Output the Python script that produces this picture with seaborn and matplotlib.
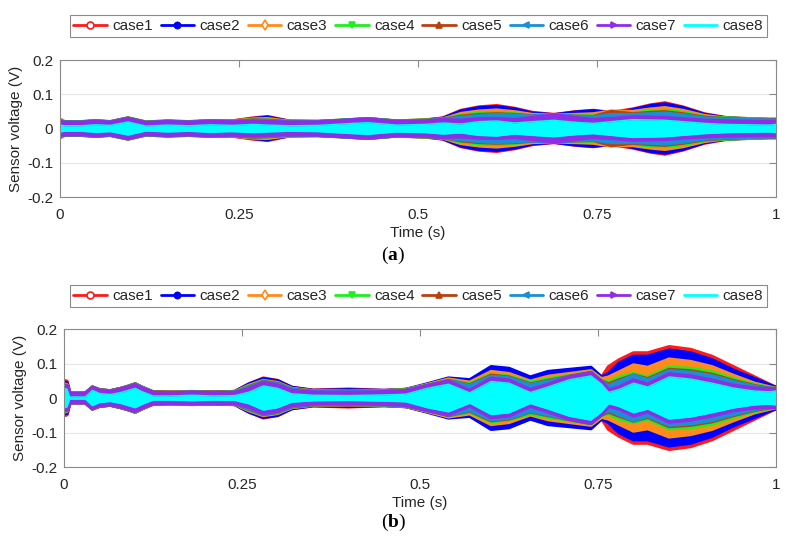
import numpy as np
import pandas as pd
import seaborn as sns
import matplotlib.pyplot as plt
from matplotlib.lines import Line2D

# ---- data: envelope amplitude (V) of each case ----
case_names = ["case1", "case2", "case3", "case4", "case5", "case6", "case7", "case8"]
case_colors = ["#ff1a1a", "#0000ff", "#ff8c1a", "#1fee1f", "#b8410e", "#1a8fd6", "#8f2de6", "#00ffff"]
case_markers = ["o", "o", "d", "v", "^", "<", ">", None]
case_filled = [False, True, False, True, True, True, True, True]

xtick_vals = [0, 0.25, 0.5, 0.75, 1]
xtick_labels = ["0", "0.25", "0.5", "0.75", "1"]
ytick_vals = [-0.2, -0.1, 0, 0.1, 0.2]
ytick_labels = ["-0.2", "-0.1", "0", "0.1", "0.2"]

# panel (a)
t_a = [0.000, 0.006, 0.030, 0.050, 0.070, 0.095, 0.120, 0.150, 0.180, 0.210,
       0.240, 0.270, 0.290, 0.320, 0.360, 0.400, 0.430, 0.470, 0.510, 0.535,
       0.560, 0.585, 0.610, 0.635, 0.660, 0.690, 0.720, 0.745, 0.770, 0.800,
       0.825, 0.845, 0.870, 0.900, 0.930, 0.960, 0.990, 1.000]
a_case1 = [0.026, 0.019, 0.019, 0.022, 0.019, 0.030, 0.018, 0.021, 0.019, 0.022,
           0.021, 0.030, 0.034, 0.021, 0.020, 0.024, 0.028, 0.021, 0.024, 0.030,
           0.052, 0.062, 0.066, 0.058, 0.046, 0.040, 0.048, 0.052, 0.046, 0.056,
           0.068, 0.074, 0.062, 0.042, 0.031, 0.028, 0.026, 0.026]
a_case2 = [0.024, 0.018, 0.018, 0.021, 0.018, 0.029, 0.017, 0.020, 0.018, 0.021,
           0.020, 0.028, 0.032, 0.020, 0.019, 0.023, 0.027, 0.021, 0.023, 0.029,
           0.050, 0.060, 0.063, 0.056, 0.044, 0.039, 0.047, 0.051, 0.044, 0.054,
           0.066, 0.071, 0.060, 0.040, 0.030, 0.027, 0.025, 0.025]
a_case3 = [0.026, 0.019, 0.018, 0.021, 0.018, 0.029, 0.017, 0.020, 0.019, 0.022,
           0.021, 0.027, 0.028, 0.020, 0.019, 0.023, 0.027, 0.020, 0.023, 0.027,
           0.043, 0.050, 0.053, 0.048, 0.040, 0.039, 0.040, 0.042, 0.050, 0.049,
           0.056, 0.060, 0.052, 0.037, 0.029, 0.027, 0.025, 0.026]
a_case4 = [0.025, 0.019, 0.019, 0.022, 0.019, 0.030, 0.018, 0.021, 0.018, 0.021,
           0.020, 0.025, 0.024, 0.020, 0.020, 0.024, 0.028, 0.021, 0.024, 0.027,
           0.038, 0.044, 0.046, 0.042, 0.037, 0.039, 0.036, 0.036, 0.043, 0.044,
           0.050, 0.052, 0.046, 0.034, 0.030, 0.028, 0.026, 0.026]
a_case5 = [0.022, 0.018, 0.018, 0.021, 0.018, 0.029, 0.017, 0.020, 0.018, 0.021,
           0.020, 0.024, 0.023, 0.019, 0.019, 0.023, 0.027, 0.020, 0.023, 0.026,
           0.035, 0.040, 0.042, 0.040, 0.036, 0.039, 0.035, 0.034, 0.049, 0.042,
           0.046, 0.048, 0.042, 0.032, 0.028, 0.026, 0.025, 0.025]
a_case6 = [0.021, 0.018, 0.018, 0.021, 0.018, 0.029, 0.017, 0.020, 0.018, 0.021,
           0.019, 0.023, 0.022, 0.018, 0.019, 0.024, 0.028, 0.020, 0.022, 0.026,
           0.032, 0.037, 0.040, 0.038, 0.035, 0.040, 0.034, 0.033, 0.040, 0.040,
           0.042, 0.044, 0.039, 0.030, 0.027, 0.025, 0.024, 0.024]
a_case7 = [0.018, 0.016, 0.016, 0.019, 0.016, 0.027, 0.015, 0.018, 0.016, 0.019,
           0.017, 0.020, 0.018, 0.016, 0.017, 0.022, 0.026, 0.018, 0.020, 0.024,
           0.022, 0.026, 0.027, 0.024, 0.030, 0.038, 0.030, 0.024, 0.027, 0.032,
           0.031, 0.030, 0.026, 0.022, 0.020, 0.019, 0.018, 0.020]
a_case8 = [0.010, 0.008, 0.008, 0.011, 0.009, 0.019, 0.007, 0.010, 0.008, 0.011,
           0.009, 0.012, 0.010, 0.008, 0.009, 0.014, 0.017, 0.010, 0.012, 0.016,
           0.013, 0.020, 0.022, 0.016, 0.020, 0.024, 0.018, 0.015, 0.020, 0.026,
           0.025, 0.024, 0.020, 0.015, 0.012, 0.011, 0.010, 0.012]

# panel (b)
t_b = [0.000, 0.004, 0.008, 0.030, 0.040, 0.050, 0.065, 0.080, 0.090, 0.100,
       0.110, 0.125, 0.150, 0.180, 0.210, 0.240, 0.260, 0.280, 0.300, 0.320,
       0.350, 0.400, 0.450, 0.480, 0.510, 0.540, 0.570, 0.600, 0.625, 0.655,
       0.680, 0.710, 0.740, 0.755, 0.765, 0.780, 0.800, 0.820, 0.850, 0.880,
       0.910, 0.940, 0.970, 0.990, 1.000]
b_case1 = [0.050, 0.048, 0.013, 0.013, 0.031, 0.023, 0.020, 0.027, 0.033, 0.040,
           0.030, 0.017, 0.016, 0.018, 0.016, 0.018, 0.040, 0.057, 0.050, 0.030,
           0.022, 0.025, 0.021, 0.024, 0.036, 0.054, 0.048, 0.085, 0.080, 0.056,
           0.072, 0.078, 0.084, 0.058, 0.090, 0.110, 0.130, 0.130, 0.148, 0.140,
           0.120, 0.090, 0.060, 0.040, 0.030]
b_case2 = [0.045, 0.043, 0.013, 0.013, 0.031, 0.023, 0.020, 0.027, 0.033, 0.040,
           0.030, 0.017, 0.016, 0.017, 0.016, 0.018, 0.040, 0.055, 0.049, 0.030,
           0.021, 0.023, 0.021, 0.024, 0.040, 0.057, 0.052, 0.090, 0.085, 0.060,
           0.076, 0.082, 0.088, 0.060, 0.070, 0.100, 0.120, 0.120, 0.138, 0.130,
           0.110, 0.080, 0.055, 0.038, 0.030]
b_case3 = [0.040, 0.038, 0.012, 0.012, 0.030, 0.022, 0.019, 0.026, 0.032, 0.039,
           0.029, 0.016, 0.016, 0.017, 0.015, 0.017, 0.036, 0.050, 0.044, 0.027,
           0.020, 0.019, 0.020, 0.023, 0.038, 0.054, 0.045, 0.076, 0.070, 0.048,
           0.062, 0.070, 0.078, 0.055, 0.060, 0.075, 0.095, 0.088, 0.112, 0.105,
           0.090, 0.065, 0.042, 0.032, 0.027]
b_case4 = [0.038, 0.036, 0.012, 0.012, 0.031, 0.022, 0.019, 0.026, 0.033, 0.040,
           0.029, 0.016, 0.015, 0.017, 0.015, 0.017, 0.034, 0.048, 0.042, 0.026,
           0.019, 0.018, 0.020, 0.023, 0.036, 0.050, 0.040, 0.068, 0.062, 0.045,
           0.055, 0.064, 0.074, 0.050, 0.045, 0.060, 0.070, 0.060, 0.088, 0.085,
           0.075, 0.055, 0.038, 0.030, 0.026]
b_case5 = [0.037, 0.035, 0.012, 0.012, 0.030, 0.022, 0.019, 0.026, 0.032, 0.039,
           0.028, 0.016, 0.015, 0.016, 0.015, 0.016, 0.032, 0.047, 0.041, 0.025,
           0.019, 0.018, 0.019, 0.022, 0.035, 0.050, 0.037, 0.065, 0.060, 0.040,
           0.050, 0.062, 0.073, 0.048, 0.040, 0.052, 0.066, 0.055, 0.082, 0.078,
           0.068, 0.050, 0.035, 0.028, 0.026]
b_case6 = [0.036, 0.034, 0.012, 0.012, 0.029, 0.021, 0.018, 0.025, 0.031, 0.038,
           0.028, 0.015, 0.014, 0.016, 0.014, 0.016, 0.030, 0.046, 0.040, 0.024,
           0.018, 0.017, 0.019, 0.021, 0.035, 0.049, 0.035, 0.062, 0.058, 0.038,
           0.048, 0.061, 0.072, 0.047, 0.035, 0.048, 0.065, 0.052, 0.078, 0.074,
           0.064, 0.047, 0.033, 0.027, 0.026]
b_case7 = [0.035, 0.033, 0.011, 0.011, 0.028, 0.020, 0.017, 0.024, 0.030, 0.036,
           0.026, 0.014, 0.013, 0.015, 0.013, 0.014, 0.025, 0.043, 0.036, 0.020,
           0.015, 0.014, 0.016, 0.019, 0.034, 0.047, 0.020, 0.055, 0.050, 0.022,
           0.038, 0.060, 0.071, 0.046, 0.022, 0.030, 0.050, 0.038, 0.068, 0.062,
           0.050, 0.035, 0.027, 0.025, 0.025]
b_case8 = [0.028, 0.026, 0.003, 0.003, 0.022, 0.013, 0.010, 0.016, 0.022, 0.028,
           0.018, 0.006, 0.006, 0.008, 0.006, 0.007, 0.017, 0.035, 0.028, 0.012,
           0.008, 0.007, 0.009, 0.011, 0.028, 0.040, 0.015, 0.048, 0.043, 0.016,
           0.032, 0.053, 0.064, 0.040, 0.016, 0.025, 0.043, 0.032, 0.061, 0.055,
           0.043, 0.029, 0.020, 0.018, 0.020]

panels = [
    ("a", t_a, [a_case1, a_case2, a_case3, a_case4, a_case5, a_case6, a_case7, a_case8]),
    ("b", t_b, [b_case1, b_case2, b_case3, b_case4, b_case5, b_case6, b_case7, b_case8]),
]

# ---- style ----
sns.set_theme(style="white")
plt.rcParams["font.family"] = ["Liberation Sans", "DejaVu Sans"]
plt.rcParams["font.size"] = 11
plt.rcParams["mathtext.fontset"] = "custom"
plt.rcParams["mathtext.rm"] = "Liberation Serif"
plt.rcParams["mathtext.bf"] = "Liberation Serif:bold"

fig = plt.figure(figsize=(7.91, 5.45), dpi=100)
# [left, bottom, width, height] in figure fraction
ax_boxes = [[0.0759, 0.6385, 0.9051, 0.2514], [0.0809, 0.1431, 0.9001, 0.2532]]
legend_y = [0.952, 0.457]
label_y = [0.532, 0.042]

handles = []
for name, col, mk, filled in zip(case_names, case_colors, case_markers, case_filled):
    handles.append(Line2D([0], [0], color=col, lw=2.0, marker=mk,
                          markersize=5 if not filled else 4.5,
                          markerfacecolor=col if filled else "white",
                          markeredgecolor=col, markeredgewidth=1.2, label=name))

for (tag, t, amps), box, ly, ty in zip(panels, ax_boxes, legend_y, label_y):
    ax = fig.add_axes(box)
    rows = []
    for name, amp in zip(case_names, amps):
        for tt, v in zip(t, amp):
            rows.append({"t": tt, "upper": v, "lower": -v, "case": name})
    df = pd.DataFrame(rows)

    # each case drawn in order (band + thick edge), later cases on top
    for i, (name, col) in enumerate(zip(case_names, case_colors)):
        d = df[df["case"] == name]
        z = 2 + i
        ax.fill_between(d["t"], d["lower"], d["upper"], color=col, lw=0, zorder=z)
        lw = 2.8
        if i == 6:
            lw = 3.4
        elif i == 7:
            lw = 1.0
        for edge in ["upper", "lower"]:
            sns.lineplot(data=d, x="t", y=edge, color=col, linewidth=lw,
                         sort=False, estimator=None, ax=ax, zorder=z,
                         solid_joinstyle="round", solid_capstyle="round")

    ax.set_xlim(0, 1)
    ax.set_ylim(-0.2, 0.2)
    ax.set_xticks(xtick_vals)
    ax.set_xticklabels(xtick_labels)
    ax.set_yticks(ytick_vals)
    ax.set_yticklabels(ytick_labels)
    ax.yaxis.grid(True, color="#e6e6e6", linewidth=0.8, zorder=0)
    ax.set_axisbelow(True)
    ax.tick_params(direction="in", top=True, right=True, length=5, width=0.8,
                   color="#8a8a8a", labelcolor="#262626", labelsize=11)
    ax.tick_params(axis="x", pad=8)
    ax.tick_params(axis="y", pad=5)
    for sp in ax.spines.values():
        sp.set_color("#8a8a8a")
        sp.set_linewidth(0.8)
        sp.set_zorder(20)
    ax.set_xlabel("Time (s)", fontsize=11, color="#262626", labelpad=3)
    ax.set_ylabel("Sensor voltage (V)", fontsize=11, color="#262626", labelpad=3)

    leg = fig.legend(handles=handles, loc="center", bbox_to_anchor=(0.529, ly), ncol=8,
                     frameon=True, fontsize=11, handlelength=2.2, handletextpad=0.35,
                     columnspacing=0.5, borderpad=0.25, fancybox=False)
    leg.get_frame().set_edgecolor("#6e6e6e")
    leg.get_frame().set_linewidth(0.8)

    fig.text(0.497, ty, r"$\mathrm{(}\mathbf{" + tag + r"}\mathrm{)}$", ha="center",
             va="center", fontsize=14, color="black")

fig.savefig("out.png", dpi=100)
